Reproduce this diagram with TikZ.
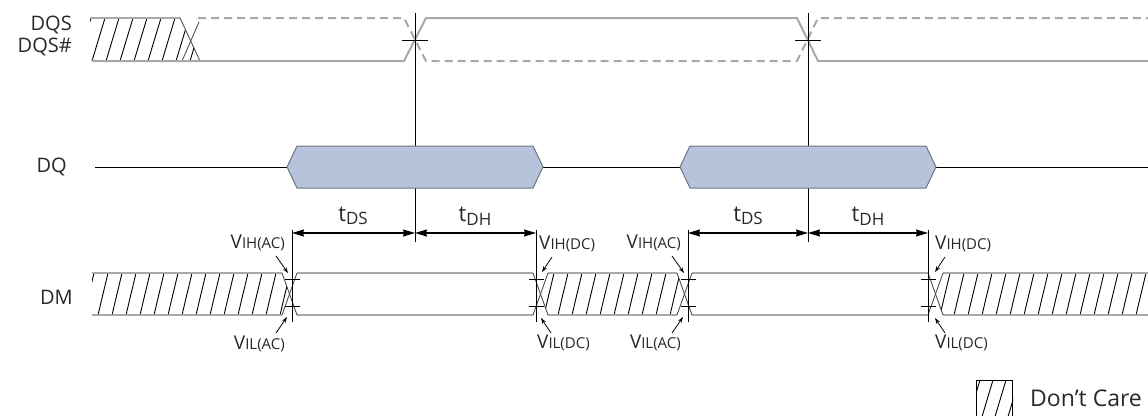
\documentclass[tikz,border=0pt]{standalone}
\usepackage{fontspec}
\setmainfont{Open Sans}
\usetikzlibrary{arrows.meta}
\definecolor{busgray}{RGB}{168,168,168}
\definecolor{datafill}{RGB}{183,195,218}
\definecolor{databorder}{RGB}{110,118,130}
\definecolor{txt}{RGB}{40,40,40}
\newcommand{\vlbl}[2]{V{\fontsize{15}{15}\selectfont #1(#2)}}
\newcommand{\tlbl}[1]{t\raisebox{-0.3ex}{\fontsize{17}{17}\selectfont #1}}
\begin{document}
\begin{tikzpicture}[x=1pt,y=-1pt,
  bus/.style={busgray,line width=2pt},
  busdash/.style={busgray,line width=2pt,dash pattern=on 8pt off 5pt},
  thinline/.style={black,line width=1pt},
  hatchline/.style={black,line width=0.9pt},
  xline/.style={black!75,line width=0.8pt},
  dimarrow/.style={black,line width=1.2pt,{Stealth[length=12pt,width=7pt,inset=1pt]}-{Stealth[length=12pt,width=7pt,inset=1pt]}},
  ptr/.style={black,line width=0.8pt,-{Stealth[length=6pt,width=4pt]}},
  siglbl/.style={inner sep=0pt,text=txt,font=\fontsize{20}{24}\selectfont},
  vlabel/.style={inner sep=0pt,text=txt,font=\fontsize{19}{22}\selectfont},
  tlabel/.style={inner sep=0pt,text=txt,font=\fontsize{22}{26}\selectfont},
  databox/.style={fill=datafill,draw=databorder,line width=1pt}
]
\useasboundingbox (0,0) rectangle (1148,415);

% ---------- signal names ----------
\node[siglbl,anchor=east] (nDQS) at (72,25) {DQS};
\node[siglbl,anchor=east] (nDQSn) at (72,47) {DQS\#};
\node[siglbl,anchor=east] (nDQ) at (67,167) {DQ};
\node[siglbl,anchor=east] (nDM) at (73,297) {DM};

% ---------- DQS / DQS# ----------
\begin{scope}
  \clip (90,18) -- (180,18) -- (200,61) -- (90,61) -- cycle;
  \foreach \x in {78,92,...,210} \draw[hatchline] (\x,61) -- (\x+13,18);
\end{scope}
\draw[bus] (90,18) -- (180,18);
\draw[xline] (180,18) -- (200,61);
\draw[xline] (182,61) -- (199,22);
\draw[busdash] (198,18) -- (404,18) -- (426,61) -- (797,61) -- (818,18) -- (1148,18);
\draw[bus] (92,61) -- (404,61) -- (426,18) -- (797,18) -- (818,61) -- (1148,61);

% crossing markers
\coordinate (c1top) at (415,13);
\coordinate (c1bot) at (415,242);
\coordinate (c2top) at (808,13);
\coordinate (c2bot) at (808,242);
\draw[thinline] (c1top) -- (c1bot);
\draw[thinline] (c2top) -- (c2bot);
\draw[thinline] (402,40) -- (428,40);
\draw[thinline] (795,40) -- (821,40);

% ---------- DQ ----------
\coordinate (dq0) at (95,167);
\coordinate (dqe) at (1148,167);
\draw[thinline] (dq0) -- (287,167);
\draw[thinline] (543,167) -- (680,167);
\draw[thinline] (936,167) -- (dqe);
\draw[databox] (287,167) -- (297,146) -- (533,146) -- (543,167) -- (533,188) -- (297,188) -- cycle;
\draw[databox] (680,167) -- (690,146) -- (926,146) -- (936,167) -- (926,188) -- (690,188) -- cycle;

% ---------- DM ----------
\begin{scope}
  \clip (92,273) -- (282,273) -- (289.5,294) -- (282,315) -- (92,315) -- cycle;
  \foreach \x in {84,98,...,300} \draw[hatchline] (\x,315) -- (\x+10,273);
\end{scope}
\begin{scope}
  \clip (540.5,294) -- (548,273) -- (677,273) -- (684.5,294) -- (677,315) -- (548,315) -- cycle;
  \foreach \x in {530,544,...,700} \draw[hatchline] (\x,315) -- (\x+10,273);
\end{scope}
\begin{scope}
  \clip (935.5,294) -- (943,273) -- (1148,273) -- (1148,315) -- (943,315) -- cycle;
  \foreach \x in {926,940,...,1160} \draw[hatchline] (\x,315) -- (\x+10,273);
\end{scope}
\draw[bus] (92,273) -- (282,273);  \draw[bus] (92,315) -- (282,315);
\draw[bus] (297,273) -- (533,273); \draw[bus] (297,315) -- (533,315);
\draw[bus] (548,273) -- (677,273); \draw[bus] (548,315) -- (677,315);
\draw[bus] (692,273) -- (928,273); \draw[bus] (692,315) -- (928,315);
\draw[bus] (943,273) -- (1148,273); \draw[bus] (943,315) -- (1148,315);
\foreach \a in {282,533,677,928}{
  \draw[xline] (\a,273) -- (\a+15,315);
  \draw[xline] (\a,315) -- (\a+15,273);
}

% transition reference lines
\foreach \n/\c in {t1/292,t2/536,t3/688,t4/928}{
  \coordinate (\n top) at (\c,230);
  \coordinate (\n bot) at (\c,322);
  \draw[thinline] (\n top) -- (\n bot);
  \draw[thinline] (\c-7,279) -- (\c+8,279);
  \draw[thinline] (\c-7,306) -- (\c+8,306);
}

% timing dimensions
\coordinate (d1) at (292,233);
\coordinate (d2) at (415,233);
\coordinate (d3) at (536,233);
\coordinate (d4) at (688,233);
\coordinate (d5) at (808,233);
\coordinate (d6) at (928,233);
\draw[dimarrow] (d1) -- (d2);
\draw[dimarrow] (d2) -- (d3);
\draw[dimarrow] (d4) -- (d5);
\draw[dimarrow] (d5) -- (d6);
\node[tlabel] (tds1) at (353,216) {\tlbl{DS}};
\node[tlabel] (tdh1) at (475,216) {\tlbl{DH}};
\node[tlabel] (tds2) at (748,216) {\tlbl{DS}};
\node[tlabel] (tdh2) at (868,216) {\tlbl{DH}};

% level labels
\node[vlabel,anchor=east] (l1h) at (285,243) {\vlbl{IH}{AC}};
\node[vlabel,anchor=east] (l1l) at (285,344) {\vlbl{IL}{AC}};
\node[vlabel,anchor=west] (l2h) at (539,244) {\vlbl{IH}{DC}};
\node[vlabel,anchor=west] (l2l) at (537,343) {\vlbl{IL}{DC}};
\node[vlabel,anchor=east] (l3h) at (681,243) {\vlbl{IH}{AC}};
\node[vlabel,anchor=east] (l3l) at (681,343) {\vlbl{IL}{AC}};
\node[vlabel,anchor=west] (l4h) at (935,244) {\vlbl{IH}{DC}};
\node[vlabel,anchor=west] (l4l) at (935,343) {\vlbl{IL}{DC}};

\coordinate (p1h) at (276,256); \coordinate (p1l) at (276,333);
\coordinate (p2h) at (552,257); \coordinate (p2l) at (551,333);
\coordinate (p3h) at (672,256); \coordinate (p3l) at (672,333);
\coordinate (p4h) at (945,257); \coordinate (p4l) at (945,333);
\draw[ptr] (p1h) -- (288,273);
\draw[ptr] (p1l) -- (287,317);
\draw[ptr] (p2h) -- (542,272);
\draw[ptr] (p2l) -- (541,318);
\draw[ptr] (p3h) -- (684,273);
\draw[ptr] (p3l) -- (683,317);
\draw[ptr] (p4h) -- (935,272);
\draw[ptr] (p4l) -- (935,318);

% ---------- legend ----------
\node[draw=black,line width=1pt,minimum width=36pt,minimum height=40pt,inner sep=0pt,anchor=north west] (legbox) at (976,380) {};
\begin{scope}
  \clip (legbox.north west) rectangle (legbox.south east);
  \foreach \x in {968,981,...,1020} \draw[hatchline] (\x,420) -- (\x+12,380);
\end{scope}
\node[inner sep=0pt,anchor=west,text=txt,font=\fontsize{23}{26}\selectfont] (legtxt) at (1030,398) {Don’t Care};
\end{tikzpicture}
\end{document}
